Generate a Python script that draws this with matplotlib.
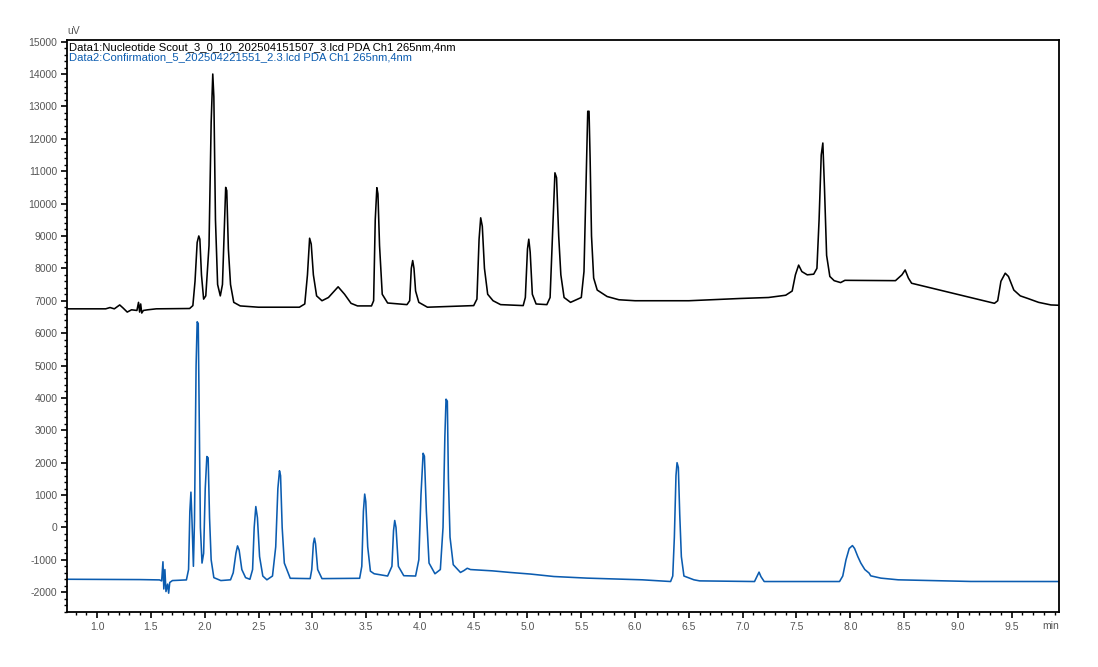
import numpy as np
import matplotlib.pyplot as plt
from matplotlib.ticker import MultipleLocator

plt.rcParams['font.family'] = ['Liberation Sans', 'DejaVu Sans']

# Data1 trace (black), digitized vertices: time (min), signal (uV)
data1_time = [0.72, 1.08, 1.12, 1.16, 1.21, 1.24, 1.28, 1.32, 1.37, 1.385, 1.395, 1.405, 1.415, 1.43,
              1.47, 1.55, 1.86, 1.89, 1.91, 1.93, 1.945, 1.955, 1.97, 1.99, 2.01, 2.04, 2.06, 2.075,
              2.085, 2.10, 2.12, 2.145, 2.165, 2.18, 2.195, 2.205, 2.22, 2.24, 2.27, 2.33, 2.5, 2.88,
              2.93, 2.955, 2.975, 2.99, 3.01, 3.04, 3.09, 3.15, 3.24, 3.30, 3.36, 3.42, 3.55, 3.57,
              3.585, 3.60, 3.61, 3.625, 3.65, 3.70, 3.88, 3.905, 3.92, 3.933, 3.945, 3.96, 3.99, 4.07,
              4.50, 4.53, 4.55, 4.565, 4.58, 4.60, 4.63, 4.68, 4.75, 4.96, 4.98, 5.00, 5.012, 5.025,
              5.045, 5.08, 5.18, 5.21, 5.235, 5.255, 5.27, 5.29, 5.31, 5.34, 5.40, 5.50, 5.525, 5.545,
              5.56, 5.572, 5.582, 5.595, 5.615, 5.648, 5.74, 5.85, 6.0, 6.5, 6.98, 7.24, 7.40, 7.46,
              7.49, 7.52, 7.55, 7.60, 7.66, 7.69, 7.71, 7.73, 7.745, 7.76, 7.78, 7.81, 7.85, 7.91,
              7.95, 8.42, 8.48, 8.51, 8.54, 8.57, 9.34, 9.37, 9.40, 9.44, 9.47, 9.52, 9.58, 9.65,
              9.75, 9.865, 9.94]
data1_signal = [6750, 6750, 6790, 6750, 6870, 6780, 6650, 6720, 6700, 6950, 6650, 6900, 6620, 6700,
                6720, 6750, 6760, 6850, 7600, 8800, 9000, 8900, 7800, 7050, 7150, 8700, 12500, 14000,
                13300, 9500, 7500, 7150, 7500, 9000, 10500, 10400, 8600, 7500, 6950, 6840, 6800, 6800,
                6900, 7800, 8930, 8750, 7800, 7150, 7000, 7100, 7430, 7200, 6920, 6840, 6840, 7000,
                9500, 10490, 10300, 8700, 7200, 6930, 6880, 7000, 8000, 8240, 8000, 7300, 6950, 6800,
                6850, 7050, 8900, 9560, 9300, 8000, 7200, 7000, 6880, 6850, 7100, 8600, 8900, 8500,
                7200, 6900, 6880, 7100, 9200, 10950, 10800, 9000, 7800, 7100, 6950, 7100, 7900, 10700,
                12850, 12850, 11400, 9000, 7700, 7330, 7130, 7030, 7000, 7000, 7070, 7100, 7170, 7300,
                7800, 8100, 7900, 7800, 7820, 8000, 9500, 11500, 11870, 10500, 8400, 7750, 7620, 7560,
                7630, 7620, 7800, 7950, 7700, 7540, 6920, 7000, 7600, 7850, 7750, 7330, 7150, 7070,
                6950, 6870, 6860]

# Data2 trace (blue)
data2_time = [0.72, 1.40, 1.58, 1.60, 1.612, 1.62, 1.63, 1.64, 1.655, 1.665, 1.675, 1.70, 1.83, 1.85,
              1.862, 1.872, 1.882, 1.895, 1.905, 1.92, 1.93, 1.94, 1.95, 1.96, 1.975, 1.99, 2.005,
              2.02, 2.032, 2.045, 2.06, 2.085, 2.15, 2.24, 2.265, 2.29, 2.305, 2.32, 2.345, 2.38,
              2.42, 2.445, 2.46, 2.475, 2.49, 2.51, 2.54, 2.578, 2.63, 2.66, 2.68, 2.695, 2.705,
              2.72, 2.74, 2.795, 2.98, 2.995, 3.01, 3.02, 3.03, 3.05, 3.09, 3.44, 3.46, 3.475, 3.487,
              3.497, 3.515, 3.54, 3.575, 3.70, 3.74, 3.755, 3.766, 3.778, 3.80, 3.85, 3.96, 3.99,
              4.01, 4.03, 4.042, 4.06, 4.085, 4.14, 4.19, 4.215, 4.232, 4.243, 4.255, 4.265, 4.28,
              4.31, 4.377, 4.41, 4.44, 4.47, 4.672, 4.84, 5.03, 5.245, 5.555, 6.067, 6.33, 6.35,
              6.365, 6.38, 6.39, 6.402, 6.415, 6.43, 6.454, 6.547, 6.60, 7.11, 7.135, 7.152, 7.17,
              7.20, 7.90, 7.93, 7.96, 7.99, 8.02, 8.04, 8.07, 8.098, 8.135, 8.175, 8.19, 8.284,
              8.445, 9.12, 9.94]
data2_signal = [-1600, -1610, -1620, -1650, -1060, -1900, -1300, -1980, -1750, -2030, -1700, -1640,
                -1620, -1300, 500, 1090, 200, -1200, 200, 5000, 6350, 6300, 3000, 0, -1100, -800,
                1200, 2190, 2150, 300, -1000, -1550, -1640, -1617, -1400, -800, -570, -700, -1300,
                -1550, -1600, -1300, 0, 645, 300, -900, -1500, -1617, -1500, -600, 1200, 1750, 1600,
                0, -1100, -1570, -1580, -1300, -500, -330, -500, -1300, -1580, -1570, -1200, 500,
                1030, 800, -600, -1350, -1430, -1500, -1200, -100, 215, 0, -1200, -1490, -1500, -1000,
                1000, 2290, 2200, 500, -1100, -1430, -1300, 0, 2800, 3960, 3900, 1500, -300, -1150,
                -1390, -1330, -1260, -1300, -1340, -1390, -1440, -1515, -1565, -1617, -1670, -1500,
                -300, 1600, 2000, 1850, 400, -900, -1500, -1617, -1650, -1670, -1500, -1380, -1520,
                -1670, -1670, -1500, -1000, -650, -560, -650, -900, -1100, -1300, -1410, -1494, -1565,
                -1617, -1668, -1670]

header1 = "Data1:Nucleotide Scout_3_0_10_202504151507_3.lcd PDA Ch1 265nm,4nm"
header2 = "Data2:Confirmation_5_202504221551_2.3.lcd PDA Ch1 265nm,4nm"

blue = '#0b5cb0'

fig = plt.figure(figsize=(10.98, 6.67), dpi=100)
ax = fig.add_axes([0.061, 0.0825, 0.9035, 0.8575])

ax.plot(data1_time, data1_signal, color='black', linewidth=1.15)
ax.plot(data2_time, data2_signal, color=blue, linewidth=1.15)

ax.set_xlim(0.72, 9.94)
ax.set_ylim(-2610, 15050)

ax.xaxis.set_minor_locator(MultipleLocator(0.1))
ax.yaxis.set_minor_locator(MultipleLocator(200))
ax.set_xticks(np.arange(1.0, 9.6, 0.5))
ax.set_xticklabels([f"{v:.1f}" for v in np.arange(1.0, 9.6, 0.5)])
ax.set_yticks(np.arange(-2000, 15001, 1000))
ax.set_yticklabels([str(int(v)) for v in np.arange(-2000, 15001, 1000)])

ax.tick_params(axis='both', which='major', direction='out', length=4, width=1.2,
               labelsize=7.5, labelcolor='#555555', pad=3)
ax.tick_params(axis='both', which='minor', direction='out', length=2.5, width=1.0)
for sp in ax.spines.values():
    sp.set_linewidth(1.3)

ax.text(0.0, 1.007, "uV", transform=ax.transAxes, fontsize=7.5, color='#555555',
        ha='left', va='bottom')
ax.text(1.0, -0.025, "min", transform=ax.transAxes, fontsize=7.5, color='#555555',
        ha='right', va='center')
ax.text(0.002, 0.997, header1, transform=ax.transAxes, fontsize=8.1, color='black',
        ha='left', va='top')
ax.text(0.002, 0.979, header2, transform=ax.transAxes, fontsize=8.1, color=blue,
        ha='left', va='top')

fig.savefig('out.png', dpi=100)
